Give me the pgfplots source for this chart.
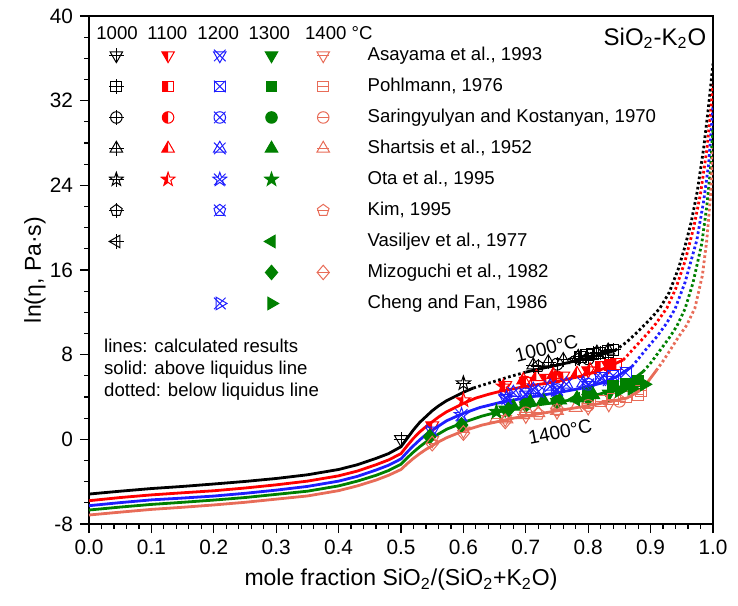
\documentclass[border=0pt]{standalone}
\usepackage{pgfplots}
\pgfplotsset{compat=1.18}
\usepackage{fontspec}
\setmainfont{Liberation Sans}
\definecolor{cA}{RGB}{0,0,0}
\definecolor{cB}{RGB}{255,0,0}
\definecolor{cC}{RGB}{30,30,255}
\definecolor{cD}{RGB}{0,128,0}
\definecolor{cE}{RGB}{232,108,88}
% shapes
\newcommand\ShDtri{\pgfpathmoveto{\pgfpoint{0pt}{-\pgfplotmarksize}}\pgfpathlineto{\pgfpoint{-0.866\pgfplotmarksize}{0.5\pgfplotmarksize}}\pgfpathlineto{\pgfpoint{0.866\pgfplotmarksize}{0.5\pgfplotmarksize}}\pgfpathclose}
\newcommand\ShUtri{\pgfpathmoveto{\pgfpoint{0pt}{\pgfplotmarksize}}\pgfpathlineto{\pgfpoint{-0.866\pgfplotmarksize}{-0.5\pgfplotmarksize}}\pgfpathlineto{\pgfpoint{0.866\pgfplotmarksize}{-0.5\pgfplotmarksize}}\pgfpathclose}
\newcommand\ShLtri{\pgfpathmoveto{\pgfpoint{-\pgfplotmarksize}{0pt}}\pgfpathlineto{\pgfpoint{0.5\pgfplotmarksize}{0.866\pgfplotmarksize}}\pgfpathlineto{\pgfpoint{0.5\pgfplotmarksize}{-0.866\pgfplotmarksize}}\pgfpathclose}
\newcommand\ShRtri{\pgfpathmoveto{\pgfpoint{\pgfplotmarksize}{0pt}}\pgfpathlineto{\pgfpoint{-0.5\pgfplotmarksize}{0.866\pgfplotmarksize}}\pgfpathlineto{\pgfpoint{-0.5\pgfplotmarksize}{-0.866\pgfplotmarksize}}\pgfpathclose}
\newcommand\ShSq{\pgfpathrectangle{\pgfpoint{-0.75\pgfplotmarksize}{-0.75\pgfplotmarksize}}{\pgfpoint{1.5\pgfplotmarksize}{1.5\pgfplotmarksize}}}
\newcommand\ShCi{\pgfpathcircle{\pgfpointorigin}{0.8\pgfplotmarksize}}
\newcommand\ShDi{\pgfpathmoveto{\pgfpoint{0pt}{\pgfplotmarksize}}\pgfpathlineto{\pgfpoint{0.85\pgfplotmarksize}{0pt}}\pgfpathlineto{\pgfpoint{0pt}{-\pgfplotmarksize}}\pgfpathlineto{\pgfpoint{-0.85\pgfplotmarksize}{0pt}}\pgfpathclose}
\newcommand\ShPe{\pgfpathmoveto{\pgfpoint{0pt}{0.85\pgfplotmarksize}}\pgfpathlineto{\pgfpoint{-0.808\pgfplotmarksize}{0.263\pgfplotmarksize}}\pgfpathlineto{\pgfpoint{-0.5\pgfplotmarksize}{-0.688\pgfplotmarksize}}\pgfpathlineto{\pgfpoint{0.5\pgfplotmarksize}{-0.688\pgfplotmarksize}}\pgfpathlineto{\pgfpoint{0.808\pgfplotmarksize}{0.263\pgfplotmarksize}}\pgfpathclose}
\newcommand\ShSt{\pgfpathmoveto{\pgfpoint{0pt}{\pgfplotmarksize}}%
\pgfpathlineto{\pgfpoint{-0.235\pgfplotmarksize}{0.324\pgfplotmarksize}}%
\pgfpathlineto{\pgfpoint{-0.951\pgfplotmarksize}{0.309\pgfplotmarksize}}%
\pgfpathlineto{\pgfpoint{-0.380\pgfplotmarksize}{-0.124\pgfplotmarksize}}%
\pgfpathlineto{\pgfpoint{-0.588\pgfplotmarksize}{-0.809\pgfplotmarksize}}%
\pgfpathlineto{\pgfpoint{0pt}{-0.4\pgfplotmarksize}}%
\pgfpathlineto{\pgfpoint{0.588\pgfplotmarksize}{-0.809\pgfplotmarksize}}%
\pgfpathlineto{\pgfpoint{0.380\pgfplotmarksize}{-0.124\pgfplotmarksize}}%
\pgfpathlineto{\pgfpoint{0.951\pgfplotmarksize}{0.309\pgfplotmarksize}}%
\pgfpathlineto{\pgfpoint{0.235\pgfplotmarksize}{0.324\pgfplotmarksize}}\pgfpathclose}
\newcommand\DefMarks[2]{%
\pgfdeclareplotmark{#1-p}{#2\pgfusepathqstroke
 \pgfpathmoveto{\pgfpoint{-\pgfplotmarksize}{0pt}}\pgfpathlineto{\pgfpoint{\pgfplotmarksize}{0pt}}%
 \pgfpathmoveto{\pgfpoint{0pt}{-\pgfplotmarksize}}\pgfpathlineto{\pgfpoint{0pt}{\pgfplotmarksize}}\pgfusepathqstroke}%
\pgfdeclareplotmark{#1-h}{\pgfscope\pgfpathrectangle{\pgfpoint{-1.1\pgfplotmarksize}{-1.05\pgfplotmarksize}}{\pgfpoint{1.1\pgfplotmarksize}{2.1\pgfplotmarksize}}\pgfusepath{clip}#2\pgfusepathqfill\endpgfscope #2\pgfusepathqstroke}%
\pgfdeclareplotmark{#1-x}{#2\pgfusepathqstroke
 \pgfpathmoveto{\pgfpoint{-0.8\pgfplotmarksize}{-0.8\pgfplotmarksize}}\pgfpathlineto{\pgfpoint{0.8\pgfplotmarksize}{0.8\pgfplotmarksize}}%
 \pgfpathmoveto{\pgfpoint{-0.8\pgfplotmarksize}{0.8\pgfplotmarksize}}\pgfpathlineto{\pgfpoint{0.8\pgfplotmarksize}{-0.8\pgfplotmarksize}}\pgfusepathqstroke}%
\pgfdeclareplotmark{#1-f}{#2\pgfusepathqfillstroke}%
\pgfdeclareplotmark{#1-m}{#2\pgfusepathqstroke
 \pgfpathmoveto{\pgfpoint{-0.8\pgfplotmarksize}{0pt}}\pgfpathlineto{\pgfpoint{0.8\pgfplotmarksize}{0pt}}\pgfusepathqstroke}%
}
\DefMarks{dtri}{\ShDtri}
\DefMarks{utri}{\ShUtri}
\DefMarks{ltri}{\ShLtri}
\DefMarks{rtri}{\ShRtri}
\DefMarks{sq}{\ShSq}
\DefMarks{ci}{\ShCi}
\DefMarks{di}{\ShDi}
\DefMarks{pe}{\ShPe}
\DefMarks{st}{\ShSt}
\pgfplotsset{
 pt/.style={only marks, mark size=3.7pt, mark options={solid, line width=0.5pt}, forget plot},
 lg/.style={only marks, mark size=3.6pt, mark options={solid, line width=0.5pt}},
 nolg/.style={legend image code/.code={\path[draw=none,fill=none] (-12.43pt,-5pt) rectangle (12.43pt,5pt);}},
 cs/.style={line width=1.4pt, no marks, forget plot},
 cd/.style={line width=1.4pt, no marks, forget plot, dash pattern=on 1.3pt off 1.3pt},
}
\begin{document}
\begin{tikzpicture}
\useasboundingbox (-44.5pt,-40.5pt) rectangle (324.5pt,262pt);
\begin{axis}[
 scale only axis, width=312pt, height=254pt,
 xmin=0, xmax=1, ymin=-8, ymax=40,
 xtick={0,0.1,0.2,0.3,0.4,0.5,0.6,0.7,0.8,0.9,1.0},
 ytick={-8,0,8,16,24,32,40},
 minor x tick num=4, minor y tick num=3,
 xticklabel style={/pgf/number format/.cd, fixed, fixed zerofill, precision=1},
 /pgf/number format/assume math mode=true,
 tick align=outside, xtick pos=bottom, ytick pos=left,
 major tick length=4.5pt, minor tick length=2.3pt,
 tick style={black, line width=0.6pt},
 axis line style={line width=0.9pt},
 tick label style={font=\fontsize{10.4}{12}\selectfont},
 label style={font=\fontsize{11.5}{13}\selectfont},
 xlabel={mole fraction SiO\textsubscript{2}/(SiO\textsubscript{2}+K\textsubscript{2}O)},
 ylabel={ln(η, Pa·s)},
 xlabel style={at={(axis description cs:0.5,-0.11)}, anchor=center},
 ylabel style={at={(axis description cs:-0.0865,0.5)}, anchor=center},
 legend columns=5,
 legend cell align=left,
 legend image code/.code={\path[draw=none,fill=none] (-12.43pt,-5pt) rectangle (12.43pt,5pt); \draw[#1] plot coordinates {(0pt,0pt)};},
 legend style={draw=none, fill=none, at={(0.004,0.942)}, anchor=north west,
   inner sep=0pt, outer sep=0pt, column sep=0pt, row sep=5.5pt,
   font=\fontsize{9.3}{11}\selectfont,
   nodes={inner sep=0pt, text height=7pt, text depth=2pt}},
]
% ---------------- legend images ----------------
\addlegendimage{lg, cA, mark=dtri-p}\addlegendentry{}
\addlegendimage{lg, cB, mark=dtri-h}\addlegendentry{}
\addlegendimage{lg, cC, mark=dtri-x}\addlegendentry{}
\addlegendimage{lg, cD, mark=dtri-f}\addlegendentry{}
\addlegendimage{lg, cE, mark=dtri-m}\addlegendentry{\hspace*{9.75pt}Asayama et al., 1993}
\addlegendimage{lg, cA, mark=sq-p}\addlegendentry{}
\addlegendimage{lg, cB, mark=sq-h}\addlegendentry{}
\addlegendimage{lg, cC, mark=sq-x}\addlegendentry{}
\addlegendimage{lg, cD, mark=sq-f}\addlegendentry{}
\addlegendimage{lg, cE, mark=sq-m}\addlegendentry{\hspace*{9.75pt}Pohlmann, 1976}
\addlegendimage{lg, cA, mark=ci-p}\addlegendentry{}
\addlegendimage{lg, cB, mark=ci-h}\addlegendentry{}
\addlegendimage{lg, cC, mark=ci-x}\addlegendentry{}
\addlegendimage{lg, cD, mark=ci-f}\addlegendentry{}
\addlegendimage{lg, cE, mark=ci-m}\addlegendentry{\hspace*{9.75pt}Saringyulyan and Kostanyan, 1970}
\addlegendimage{lg, cA, mark=utri-p}\addlegendentry{}
\addlegendimage{lg, cB, mark=utri-h}\addlegendentry{}
\addlegendimage{lg, cC, mark=utri-x}\addlegendentry{}
\addlegendimage{lg, cD, mark=utri-f}\addlegendentry{}
\addlegendimage{lg, cE, mark=utri-m}\addlegendentry{\hspace*{9.75pt}Shartsis et al., 1952}
\addlegendimage{lg, cA, mark=st-p}\addlegendentry{}
\addlegendimage{lg, cB, mark=st-h}\addlegendentry{}
\addlegendimage{lg, cC, mark=st-x}\addlegendentry{}
\addlegendimage{lg, cD, mark=st-f}\addlegendentry{}
\addlegendimage{nolg}\addlegendentry{\hspace*{9.75pt}Ota et al., 1995}
\addlegendimage{lg, cA, mark=pe-p}\addlegendentry{}
\addlegendimage{nolg}\addlegendentry{}
\addlegendimage{lg, cC, mark=pe-x}\addlegendentry{}
\addlegendimage{nolg}\addlegendentry{}
\addlegendimage{lg, cE, mark=pe-m}\addlegendentry{\hspace*{9.75pt}Kim, 1995}
\addlegendimage{lg, cA, mark=ltri-p}\addlegendentry{}
\addlegendimage{nolg}\addlegendentry{}
\addlegendimage{nolg}\addlegendentry{}
\addlegendimage{lg, cD, mark=ltri-f}\addlegendentry{}
\addlegendimage{nolg}\addlegendentry{\hspace*{9.75pt}Vasiljev et al., 1977}
\addlegendimage{nolg}\addlegendentry{}
\addlegendimage{nolg}\addlegendentry{}
\addlegendimage{nolg}\addlegendentry{}
\addlegendimage{lg, cD, mark=di-f}\addlegendentry{}
\addlegendimage{lg, cE, mark=di-m}\addlegendentry{\hspace*{9.75pt}Mizoguchi et al., 1982}
\addlegendimage{nolg}\addlegendentry{}
\addlegendimage{nolg}\addlegendentry{}
\addlegendimage{lg, cC, mark=rtri-x}\addlegendentry{}
\addlegendimage{lg, cD, mark=rtri-f}\addlegendentry{}
\addlegendimage{nolg}\addlegendentry{\hspace*{9.75pt}Cheng and Fan, 1986}
% ---------------- measured points ----------------
% Asayama 1993
\addplot[pt, cA, mark=dtri-p] coordinates {(0.50,0.0)};
\addplot[pt, cB, mark=dtri-h] coordinates {(0.55,1.3) (0.667,5.1) (0.70,5.5) (0.733,5.8) (0.76,6.0) (0.80,6.5) (0.833,6.9)};
\addplot[pt, cC, mark=dtri-x] coordinates {(0.55,0.8) (0.667,3.9) (0.70,4.2) (0.75,4.6) (0.80,5.1) (0.833,5.6)};
\addplot[pt, cD, mark=dtri-f] coordinates {(0.667,2.8) (0.70,3.2) (0.75,3.5) (0.80,3.9) (0.833,4.3)};
\addplot[pt, cE, mark=dtri-m] coordinates {(0.55,-0.1) (0.60,0.8) (0.667,1.9) (0.70,2.2) (0.75,2.6) (0.80,3.0) (0.833,3.3)};
% Pohlmann 1976
\addplot[pt, cA, mark=sq-p] coordinates {(0.787,7.8) (0.798,7.95) (0.808,8.1) (0.819,8.15) (0.832,8.3) (0.84,8.45)};
\addplot[pt, cB, mark=sq-h] coordinates {(0.82,6.8) (0.835,7.0) (0.845,7.1)};
\addplot[pt, cC, mark=sq-x] coordinates {(0.82,5.8) (0.84,6.0) (0.86,6.3)};
\addplot[pt, cD, mark=sq-f] coordinates {(0.80,4.5) (0.84,5.0) (0.86,5.2) (0.88,5.5)};
\addplot[pt, cE, mark=sq-m] coordinates {(0.80,3.4) (0.82,3.6) (0.84,3.8) (0.86,4.0) (0.88,4.2) (0.885,4.6)};
% Saringyulyan and Kostanyan 1970
\addplot[pt, cA, mark=ci-p] coordinates {(0.75,7.1) (0.80,7.6)};
\addplot[pt, cB, mark=ci-h] coordinates {(0.70,5.4) (0.75,5.9)};
\addplot[pt, cC, mark=ci-x] coordinates {(0.70,4.3) (0.75,4.7) (0.80,5.2)};
\addplot[pt, cD, mark=ci-f] coordinates {(0.70,3.3) (0.75,3.6) (0.80,4.0)};
\addplot[pt, cE, mark=ci-m] coordinates {(0.70,2.5) (0.75,2.8) (0.80,3.2) (0.85,3.6)};
% Shartsis 1952
\addplot[pt, cA, mark=utri-p] coordinates {(0.712,7.0) (0.736,7.3) (0.76,7.5) (0.784,7.8) (0.814,8.2) (0.832,8.4)};
\addplot[pt, cB, mark=utri-h] coordinates {(0.696,5.6) (0.717,5.9) (0.744,6.1) (0.782,6.2) (0.803,6.55)};
\addplot[pt, cC, mark=utri-x] coordinates {(0.68,4.4) (0.712,4.7) (0.739,5.0) (0.765,5.2) (0.792,5.3) (0.819,5.6)};
\addplot[pt, cD, mark=utri-f] coordinates {(0.68,3.1) (0.707,3.55) (0.728,3.7) (0.755,3.7) (0.782,3.9) (0.808,4.2)};
\addplot[pt, cE, mark=utri-m] coordinates {(0.653,2.0) (0.669,1.9) (0.696,2.3) (0.72,2.5) (0.75,2.7) (0.78,3.0)};
% Ota 1995
\addplot[pt, cA, mark=st-p] coordinates {(0.60,5.3)};
\addplot[pt, cB, mark=st-h] coordinates {(0.60,3.7) (0.664,5.0)};
\addplot[pt, cC, mark=st-x] coordinates {(0.597,2.3) (0.669,3.9)};
\addplot[pt, cD, mark=st-f] coordinates {(0.653,2.6)};
% Kim 1995
\addplot[pt, cA, mark=pe-p] coordinates {(0.72,6.9)};
\addplot[pt, cC, mark=pe-x] coordinates {(0.72,4.5)};
\addplot[pt, cE, mark=pe-m] coordinates {(0.72,2.4)};
% Vasiljev 1977
\addplot[pt, cA, mark=ltri-p] coordinates {(0.78,7.6)};
\addplot[pt, cD, mark=ltri-f] coordinates {(0.78,3.8)};
% Mizoguchi 1982
\addplot[pt, cD, mark=di-f] coordinates {(0.546,0.25) (0.597,1.35) (0.672,2.8)};
\addplot[pt, cE, mark=di-m] coordinates {(0.55,-0.4) (0.60,0.6) (0.667,1.7)};
% Cheng and Fan 1986
\addplot[pt, cC, mark=rtri-x] coordinates {(0.75,4.7)};
\addplot[pt, cD, mark=rtri-f] coordinates {(0.85,4.6) (0.87,4.8) (0.89,5.2)};
% ---------------- calculated curves ----------------
% 1000
\addplot[cs, cA] coordinates {(0,-5.17) (0.05,-4.9) (0.1,-4.65) (0.15,-4.45) (0.2,-4.22) (0.25,-3.98) (0.3,-3.7) (0.35,-3.35) (0.4,-2.85) (0.43,-2.4) (0.46,-1.8) (0.48,-1.35) (0.5,-0.7) (0.51,0.1) (0.52,0.9) (0.53,1.6) (0.54,2.15) (0.55,2.7) (0.56,3.15) (0.573,3.65) (0.59,4.15) (0.6,4.45) (0.616,4.85)};
\addplot[cd, cA] coordinates {(0.616,4.85) (0.643,5.35) (0.67,5.85) (0.70,6.35)};
\addplot[cs, cA] coordinates {(0.70,6.35) (0.725,6.7) (0.75,7.0) (0.775,7.35) (0.80,7.7) (0.82,8.0) (0.843,8.4)};
\addplot[cd, cA] coordinates {(0.843,8.4) (0.862,9.2) (0.88,10.2) (0.9,11.4) (0.915,12.4) (0.93,13.9) (0.945,16.2) (0.955,18.2) (0.965,20.5) (0.975,23.5) (0.985,27.5) (0.992,31) (0.997,33.8) (1.0,35.5)};
% 1100
\addplot[cs, cB] coordinates {(0,-5.8) (0.05,-5.5) (0.1,-5.25) (0.15,-5.05) (0.2,-4.86) (0.25,-4.6) (0.3,-4.3) (0.35,-3.95) (0.4,-3.45) (0.43,-3.0) (0.46,-2.4) (0.48,-1.95) (0.5,-1.35) (0.51,-0.6) (0.52,0.1) (0.53,0.7) (0.54,1.2) (0.55,1.65) (0.56,2.1) (0.573,2.6) (0.59,3.1) (0.6,3.4) (0.62,3.9) (0.64,4.25) (0.66,4.55) (0.7,5.0) (0.733,5.3) (0.76,5.6) (0.787,5.95) (0.81,6.35) (0.83,6.8) (0.845,7.2) (0.856,7.5)};
\addplot[cd, cB] coordinates {(0.856,7.5) (0.878,8.9) (0.895,10.0) (0.908,10.9) (0.926,12.4) (0.94,14.2) (0.955,16.8) (0.969,20.0) (0.98,23.2) (0.99,27.3) (0.996,30.8) (1.0,33.5)};
% 1200
\addplot[cs, cC] coordinates {(0,-6.27) (0.05,-5.98) (0.1,-5.72) (0.15,-5.55) (0.2,-5.36) (0.25,-5.1) (0.3,-4.8) (0.35,-4.45) (0.4,-3.95) (0.43,-3.5) (0.46,-2.9) (0.48,-2.45) (0.5,-1.85) (0.51,-1.2) (0.52,-0.6) (0.53,-0.05) (0.54,0.45) (0.55,0.85) (0.56,1.25) (0.573,1.75) (0.59,2.2) (0.6,2.45) (0.626,3.0) (0.66,3.5) (0.707,4.0) (0.75,4.4) (0.787,4.8) (0.82,5.3) (0.845,5.9) (0.87,6.86)};
\addplot[cd, cC] coordinates {(0.87,6.86) (0.894,8.6) (0.91,9.7) (0.926,11.0) (0.939,12.3) (0.955,14.8) (0.974,18.8) (0.985,22.5) (0.993,26) (1.0,31.5)};
% 1300
\addplot[cs, cD] coordinates {(0,-6.68) (0.05,-6.4) (0.1,-6.15) (0.15,-5.95) (0.2,-5.74) (0.25,-5.5) (0.3,-5.2) (0.35,-4.9) (0.4,-4.4) (0.43,-3.95) (0.46,-3.4) (0.48,-2.95) (0.5,-2.35) (0.51,-1.75) (0.52,-1.2) (0.53,-0.7) (0.54,-0.25) (0.55,0.15) (0.56,0.5) (0.573,0.95) (0.6,1.6) (0.63,2.2) (0.653,2.55) (0.7,3.1) (0.75,3.5) (0.787,3.87) (0.82,4.3) (0.85,4.9) (0.87,5.6) (0.888,6.4)};
\addplot[cd, cD] coordinates {(0.888,6.4) (0.9,7.2) (0.915,8.4) (0.93,9.6) (0.942,10.7) (0.955,12.3) (0.968,14.8) (0.982,18.5) (0.99,22) (0.996,25.5) (1.0,29.5)};
% 1400
\addplot[cs, cE] coordinates {(0,-7.15) (0.05,-6.88) (0.1,-6.62) (0.15,-6.42) (0.2,-6.2) (0.25,-5.95) (0.3,-5.65) (0.35,-5.35) (0.4,-4.85) (0.43,-4.4) (0.46,-3.85) (0.48,-3.4) (0.5,-2.85) (0.51,-2.3) (0.52,-1.8) (0.53,-1.35) (0.54,-0.95) (0.55,-0.6) (0.56,-0.25) (0.573,0.15) (0.6,0.8) (0.63,1.35) (0.68,2.0) (0.73,2.5) (0.787,3.05) (0.83,3.5) (0.862,3.9) (0.88,4.5) (0.895,5.4) (0.909,6.5)};
\addplot[cd, cE] coordinates {(0.909,6.5) (0.92,7.4) (0.931,8.4) (0.945,9.7) (0.958,10.8) (0.971,12.4) (0.983,15.5) (0.99,18.8) (0.996,23) (1.0,27.5)};
% ---------------- texts ----------------
\node[font=\fontsize{9.3}{11}\selectfont] at (axis cs:0.045,38.4) {1000};
\node[font=\fontsize{9.3}{11}\selectfont] at (axis cs:0.1255,38.4) {1100};
\node[font=\fontsize{9.3}{11}\selectfont] at (axis cs:0.207,38.4) {1200};
\node[font=\fontsize{9.3}{11}\selectfont] at (axis cs:0.289,38.4) {1300};
\node[font=\fontsize{9.3}{11}\selectfont, anchor=west] at (axis cs:0.335,38.4) {1400 °C};
\node[font=\fontsize{12}{14}\selectfont] at (axis cs:0.907,37.9) {SiO\textsubscript{2}-K\textsubscript{2}O};
\node[font=\fontsize{9.3}{11}\selectfont, anchor=west, align=left] at (axis cs:0.013,6.55) {lines: calculated results\\solid: above liquidus line\\dotted: below liquidus line};
\node[font=\fontsize{9.6}{11}\selectfont, rotate=14] at (axis cs:0.733,8.6) {1000°C};
\node[font=\fontsize{9.6}{11}\selectfont, rotate=11] at (axis cs:0.755,0.7) {1400°C};
\end{axis}
\end{tikzpicture}
\end{document}
